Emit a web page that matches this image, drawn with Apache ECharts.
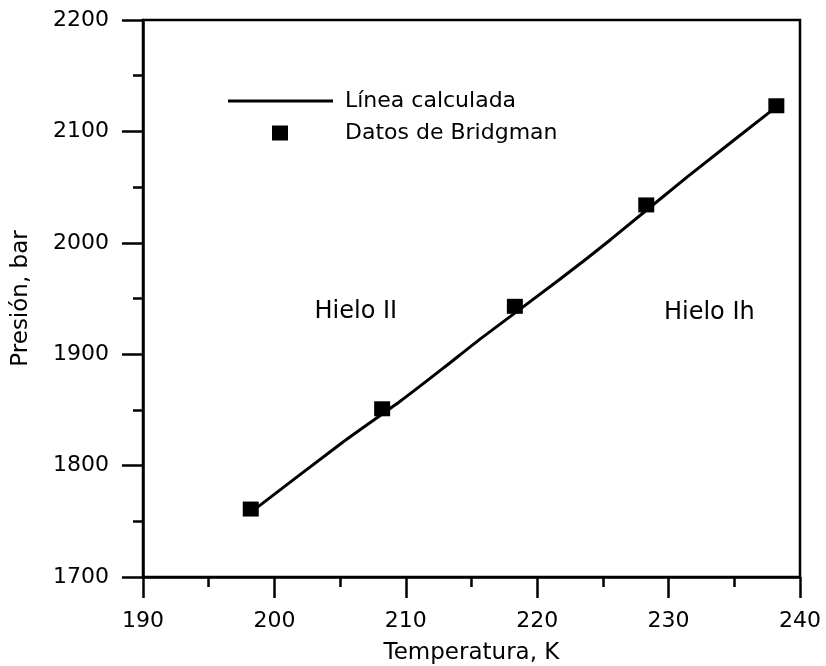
<!DOCTYPE html>
<html>
<head>
<meta charset="utf-8">
<script src="https://cdn.jsdelivr.net/npm/echarts@6/dist/echarts.min.js"></script>
<style>
  html, body { margin: 0; padding: 0; background: #fff; }
  #chart { width: 826px; height: 666px; }
</style>
</head>
<body>
<div id="chart"></div>
<script>
// Bridgman's measured melting points (temperature K, pressure bar)
const bridgmanT = [198.2, 208.2, 218.3, 228.3, 238.2];
const bridgmanP = [1761, 1851, 1943, 2034, 2123];

// Calculated coexistence line
const calcT = [198.2, 205.2, 209.6, 212.8, 215.7, 221.7, 225.6, 231.4, 238.2];
const calcP = [1758, 1821, 1858, 1887, 1914, 1967, 2003, 2059, 2122];

// Phase region labels and their positions in data space
const regionNames = ['Hielo II', 'Hielo Ih'];
const regionT = [206.2, 233.1];
const regionP = [1938, 1937];

const FONT = '"DejaVu Sans", Verdana, sans-serif';
const INK = '#000';

const chart = echarts.init(document.getElementById('chart'), null, { renderer: 'canvas' });

const axisCommon = {
  type: 'value',
  axisLine: { show: true, lineStyle: { color: INK, width: 2.5 } },
  axisTick: { show: true, inside: false, length: 21, lineStyle: { color: INK, width: 2.5 } },
  minorTick: { show: true, splitNumber: 2, length: 10, lineStyle: { color: INK, width: 2.5 } },
  splitLine: { show: false },
  minorSplitLine: { show: false },
  nameLocation: 'middle',
  nameTextStyle: { color: INK, fontFamily: FONT, fontSize: 23 }
};

const tickLabel = (margin) => ({
  color: INK, fontFamily: FONT, fontSize: 22, margin: margin,
  formatter: v => String(v)
});

chart.setOption({
  animation: false,
  backgroundColor: '#fff',
  grid: {
    left: 143, right: 26, top: 20, bottom: 89,
    outerBoundsMode: 'none',
    containLabel: false,
    show: true, borderColor: INK, borderWidth: 2.5, backgroundColor: 'transparent'
  },
  xAxis: Object.assign({}, axisCommon, {
    min: 190, max: 240, interval: 10,
    name: 'Temperatura, K',
    nameGap: 65,
    axisLabel: tickLabel(33)
  }),
  yAxis: Object.assign({}, axisCommon, {
    min: 1700, max: 2200, interval: 100,
    name: 'Presión, bar',
    nameGap: 110,
    axisLabel: tickLabel(34)
  }),
  legend: [
    {
      data: [{ name: 'Línea calculada', icon: 'rect' }],
      left: 223, top: 85,
      itemWidth: 105, itemHeight: 3,
      textStyle: { color: INK, fontFamily: FONT, fontSize: 22, padding: [0, 0, 0, 7] },
      selectedMode: false
    },
    {
      data: [{ name: 'Datos de Bridgman', icon: 'rect' }],
      left: 267, top: 117,
      itemWidth: 16, itemHeight: 15,
      textStyle: { color: INK, fontFamily: FONT, fontSize: 22, padding: [0, 0, 0, 52] },
      selectedMode: false
    }
  ],
  series: [
    {
      name: 'Línea calculada',
      type: 'line',
      data: calcT.map((t, i) => [t, calcP[i]]),
      symbol: 'none',
      smooth: 0.2,
      lineStyle: { color: INK, width: 3 },
      itemStyle: { color: INK },
      z: 2
    },
    {
      name: 'Datos de Bridgman',
      type: 'scatter',
      data: bridgmanT.map((t, i) => [t, bridgmanP[i]]),
      symbol: 'rect',
      symbolSize: [16, 15],
      itemStyle: { color: INK, opacity: 1 },
      z: 3
    },
    {
      name: 'regiones',
      type: 'scatter',
      data: regionNames.map((n, i) => ({ name: n, value: [regionT[i], regionP[i]] })),
      symbolSize: 0,
      silent: true,
      itemStyle: { opacity: 1 },
      label: {
        show: true,
        position: 'inside',
        formatter: p => p.name,
        color: INK,
        fontFamily: FONT,
        fontSize: 24
      }
    }
  ]
});
</script>
</body>
</html>
